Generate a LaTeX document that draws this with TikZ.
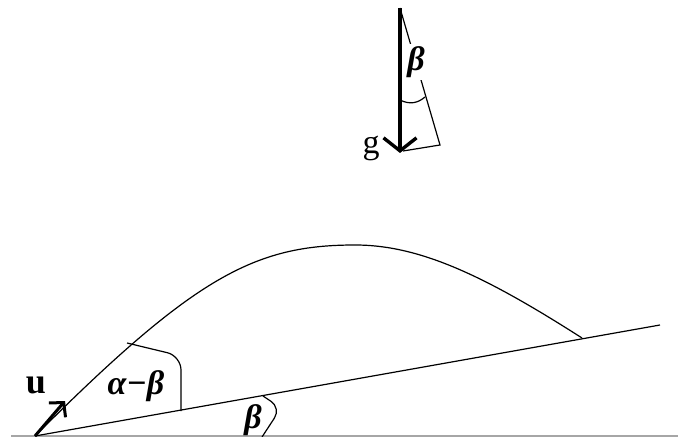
\documentclass[tikz,border=0pt]{standalone}
\usepackage{fontspec}
\setmainfont{Liberation Serif}
\usetikzlibrary{arrows.meta}

\begin{document}
\begin{tikzpicture}[
  x=0.5pt, y=-0.5pt,
  thinline/.style={line width=0.6pt, black},
  vec/.style={line width=1.5pt, -{Straight Barb[length=5pt, width=11pt]}},
  gvec/.style={line width=1.7pt, -{Straight Barb[length=6.5pt, width=16.5pt]}},
  lbl/.style={inner sep=1pt, font=\fontsize{17}{20}\selectfont},
  ang/.style={lbl, font=\fontsize{17}{20}\selectfont\bfseries\itshape}
]
  \useasboundingbox (0,0) rectangle (678,437);

  % points of the incline and the path
  \coordinate (base) at (11,436);
  \coordinate (baseEnd) at (678,436);
  \coordinate (O) at (35,436);
  \coordinate (inclEnd) at (660,325);
  \coordinate (apex) at (355,245);
  \coordinate (land) at (582,338);
  \coordinate (uTip) at (65,401);

  % gravity triangle
  \coordinate (gTop) at (400,8);
  \coordinate (gTip) at (400,153);
  \coordinate (slantEnd) at (440,145);
  \coordinate (foot) at (403,151);

  \draw[line width=0.8pt, gray!70] (base) -- (baseEnd);
  \draw[thinline] (O) -- (inclEnd);
  \draw[thinline] (O) .. controls (195,276) and (255,245) .. (apex)
                      .. controls (420,245) and (485,276) .. (land);

  % angle marks
  \draw[thinline, rounded corners=7pt] (127,343) -- (181,356) -- (181,411);
  \draw[thinline, rounded corners=6pt] (263,396) -- (281,408) -- (262,437);

  \draw[vec] (O) -- (uTip);

  \draw[thinline] (gTop) -- (slantEnd) -- (foot);
  \draw[thinline] (400,100) .. controls (410,105) and (418,103) .. (425,97);
  \draw[gvec] (gTop) -- (gTip);

  % labels
  \node[lbl] (gLab) at (371,148) {g};
  \node[lbl, font=\fontsize{18}{20}\selectfont\bfseries] (uLab) at (36,385) {u};
  \node[ang] (alphaBeta) at (136,386) {α−β};
  \node[ang] (betaLow) at (253,420) {β};
  \node[ang, fill=white] (betaTop) at (416,62) {β};
\end{tikzpicture}
\end{document}
